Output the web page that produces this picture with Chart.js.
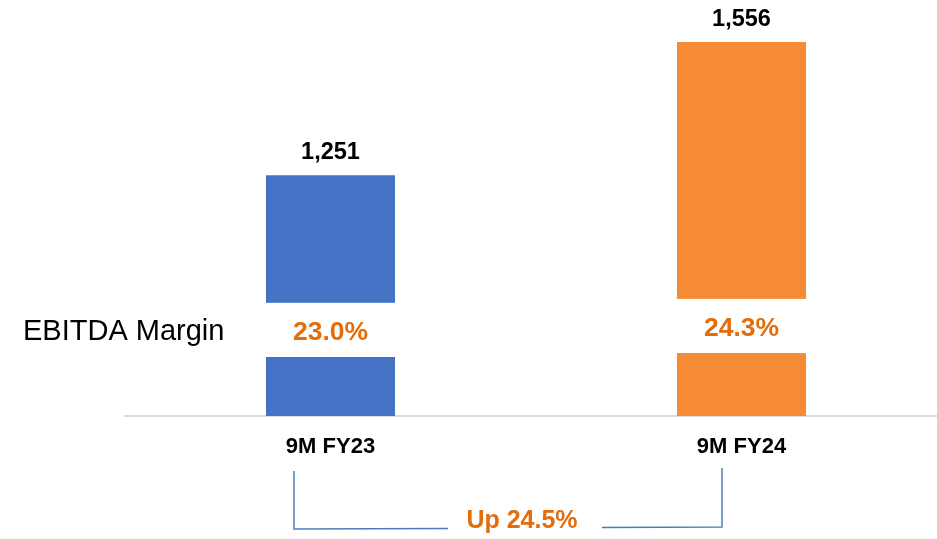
<!DOCTYPE html>
<html>
<head>
<meta charset="utf-8">
<script src="https://cdn.jsdelivr.net/npm/chart.js@4/dist/chart.umd.min.js"></script>
<style>
  html, body { margin: 0; padding: 0; background: #fff; overflow: hidden; }
  #wrap { width: 947px; height: 539px; }
</style>
</head>
<body>
<div id="wrap"><canvas id="chart" width="947" height="539"></canvas></div>
<script>
// data
var categories = ['9M FY23', '9M FY24'];
var ebitda = [1251, 1556];
var margins = [23.0, 24.3];
var growth = 24.5;
// where the bar is cut to show the margin (in value units)
var breakFrom = [835, 844];
var breakTo = [959, 968];

var blue = '#4472C4';
var orange = '#F58B34';
var textOrange = '#E46C0A';
var FONT = '"Liberation Sans", Arial, sans-serif';

function fmt(v){
    return v.toLocaleString('en-US');
}

var barDecor = {
    id: 'barDecor',
    afterDatasetsDraw: function(chart){
        var ctx = chart.ctx;
        var yScale = chart.scales.y;
        var bars = chart.getDatasetMeta(0).data;
        ctx.save();
        bars.forEach(function(bar, i){
            var half = bar.width / 2;
            var yTop = yScale.getPixelForValue(breakTo[i]);
            var yBot = yScale.getPixelForValue(breakFrom[i]);
            //白い帯で棒を切る
            ctx.fillStyle = '#ffffff';
            ctx.fillRect(bar.x - half - 1, yTop, bar.width + 2, yBot - yTop);
            // margin text
            ctx.fillStyle = textOrange;
            ctx.font = 'bold 26.5px ' + FONT;
            ctx.textAlign = 'center';
            ctx.textBaseline = 'middle';
            ctx.fillText(margins[i].toFixed(1) + '%', bar.x, (yTop + yBot) / 2 + 2.5);
            // value on top
            ctx.fillStyle = '#000000';
            ctx.font = 'bold 23.5px ' + FONT;
            ctx.textBaseline = 'alphabetic';
            ctx.fillText(fmt(ebitda[i]), bar.x, bar.y - 16);
        });

        // row title
        var y0 = (yScale.getPixelForValue(breakTo[0]) + yScale.getPixelForValue(breakFrom[0])) / 2;
        ctx.fillStyle = '#000000';
        ctx.font = '29px ' + FONT;
        ctx.textAlign = 'left';
        ctx.textBaseline = 'middle';
        ctx.fillText('EBITDA Margin', 23, y0 + 2);

        // growth bracket
        var xl = bars[0].x - 36.5;
        var xr = bars[1].x - 19.5;
        ctx.strokeStyle = '#4A7EBB';
        ctx.lineWidth = 1.5;
        ctx.beginPath();
        ctx.moveTo(xl, 471);
        ctx.lineTo(xl, 529);
        ctx.lineTo(xl + 154, 528.5);
        ctx.stroke();
        ctx.beginPath();
        ctx.moveTo(xr - 120, 527.5);
        ctx.lineTo(xr, 527);
        ctx.lineTo(xr, 468);
        ctx.stroke();
        ctx.fillStyle = textOrange;
        ctx.font = 'bold 25px ' + FONT;
        ctx.textAlign = 'center';
        ctx.textBaseline = 'alphabetic';
        ctx.fillText('Up ' + growth.toFixed(1) + '%', 522, 528);
        ctx.restore();
    }
};

var context = document.getElementById('chart').getContext('2d');
var myChart = new Chart(context, {
    type: 'bar',
    data: {
        labels: categories,
        datasets: [{
            data: ebitda,
            backgroundColor: [blue, orange],
            borderWidth: 0,
            barPercentage: 0.314,
            categoryPercentage: 1
        }]
    },
    options: {
        responsive: false,
        animation: false,
        devicePixelRatio: 1,
        layout: { padding: { left: 125, right: 0, top: 0, bottom: 60.6 } },
        plugins: {
            legend: { display: false },
            tooltip: { enabled: false }
        },
        scales: {
            x: {
                grid: { display: false, drawTicks: false },
                border: { display: true, color: '#D9D9D9', width: 2 },
                ticks: {
                    color: '#000000',
                    padding: 18,
                    font: { family: FONT, size: 22, weight: 'bold' }
                }
            },
            y: {
                display: false,
                min: 700,
                max: 1652
            }
        }
    },
    plugins: [barDecor]
});
</script>
</body>
</html>
